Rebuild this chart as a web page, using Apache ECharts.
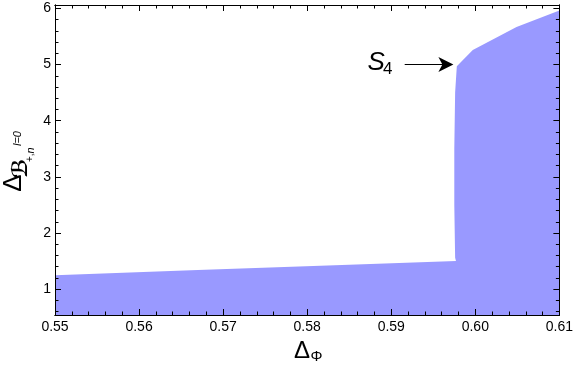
<!DOCTYPE html>
<html>
<head>
<meta charset="utf-8">
<script src="https://cdn.jsdelivr.net/npm/echarts@6/dist/echarts.min.js"></script>
<style>
  html, body { margin: 0; padding: 0; background: #fff; }
  #main { width: 576px; height: 373px; }
</style>
</head>
<body>
<div id="main"></div>
<script>
// axis ranges and tick marks
const xMin = 0.55, xMax = 0.61;
const yMin = 0.54, yMax = 6.06;
const xMajor = [0.55, 0.56, 0.57, 0.58, 0.59, 0.60, 0.61];
const yMajor = [1, 2, 3, 4, 5, 6];
// allowed region boundary, clockwise from bottom-left
const regionX = [0.55, 0.55, 0.567, 0.585, 0.5977, 0.5976, 0.5975, 0.5975, 0.5976, 0.5978, 0.5997, 0.6049, 0.61, 0.61];
const regionY = [0.54, 1.25, 1.34, 1.435, 1.50, 1.56, 2.5, 3.5, 4.5, 4.97, 5.26, 5.67, 5.96, 0.54];
// S4 arrow
const arrowFrom = [0.5916, 5.0];
const arrowTo = [0.5965, 5.0];

const xMinor = [], yMinor = [];
for (let i = 0; i < xMajor.length - 1; i++) {
  for (let k = 1; k < 5; k++) xMinor.push(+(xMajor[i] + k * 0.002).toFixed(3));
}
for (let v = 0.6; v < yMax; v += 0.2) {
  const r = +v.toFixed(1);
  if (Math.abs(r - Math.round(r)) > 0.01) yMinor.push(r);
}

const FONT = 'Liberation Sans, Arial, sans-serif';

function axis(dir, pos, ticks, len, withLabels) {
  const a = {
    type: 'value',
    position: pos,
    min: dir === 'x' ? xMin : yMin,
    max: dir === 'x' ? xMax : yMax,
    z: 5,
    splitLine: { show: false },
    axisLine: { show: true, onZero: false, lineStyle: { color: '#000', width: 1 } },
    axisTick: { show: true, inside: true, length: len, customValues: ticks, lineStyle: { color: '#000', width: 1 } },
    axisLabel: { show: false }
  };
  if (withLabels) {
    a.axisLabel = {
      show: true,
      customValues: ticks,
      color: '#000',
      fontFamily: FONT,
      fontSize: 14,
      margin: dir === 'x' ? 5 : 4,
      formatter: v => dir === 'x' ? v.toFixed(2) : String(Math.round(v))
    };
  }
  return a;
}

const chart = echarts.init(document.getElementById('main'));
chart.setOption({
  animation: false,
  backgroundColor: '#fff',
  grid: { left: 55, right: 16, top: 5, bottom: 58, containLabel: false },
  xAxis: [
    axis('x', 'bottom', xMajor, 6, true),
    axis('x', 'bottom', xMinor, 3.5, false),
    axis('x', 'top', xMajor, 6, false),
    axis('x', 'top', xMinor, 3.5, false)
  ],
  yAxis: [
    axis('y', 'left', yMajor, 6, true),
    axis('y', 'left', yMinor, 3.5, false),
    axis('y', 'right', yMajor, 6, false),
    axis('y', 'right', yMinor, 3.5, false)
  ],
  series: [
    {
      type: 'custom',
      z: 1,
      silent: true,
      data: [[0.58, 3]],
      renderItem: (params, api) => {
        const pts = regionX.map((x, i) => api.coord([x, regionY[i]]));
        return { type: 'polygon', shape: { points: pts }, style: { fill: '#9999ff' } };
      }
    },
    {
      type: 'line',
      data: [],
      silent: true,
      markLine: {
        silent: true,
        symbol: ['none', 'path://M5,0 L10,15 L5,11 L0,15 Z'],
        symbolSize: 15,
        label: { show: false },
        lineStyle: { color: '#000', width: 1, type: 'solid' },
        data: [[{ coord: arrowFrom }, { coord: arrowTo }]]
      }
    }
  ]
});

const p = chart.convertToPixel({ xAxisIndex: 0, yAxisIndex: 0 }, arrowFrom);
const rot = Math.PI / 2;
chart.setOption({
  graphic: [
    // S4 label
    { type: 'text', x: p[0] - 28.5, y: p[1] - 2, style: { text: 'S', font: 'italic 26px ' + FONT, fill: '#000', align: 'center', verticalAlign: 'middle' } },
    { type: 'text', x: p[0] - 17, y: p[1] + 5, style: { text: '4', font: '17px ' + FONT, fill: '#000', align: 'center', verticalAlign: 'middle' } },
    // x axis title
    { type: 'text', x: 302, y: 351, style: { text: 'Δ', font: '24px ' + FONT, fill: '#000', align: 'center', verticalAlign: 'middle' } },
    { type: 'text', x: 316.5, y: 357, style: { text: 'Φ', font: '15px ' + FONT, fill: '#000', align: 'center', verticalAlign: 'middle' } },
    // y axis title
    { type: 'text', x: 14, y: 183, rotation: rot, style: { text: 'Δ', font: '26px ' + FONT, fill: '#000', align: 'center', verticalAlign: 'middle' } },
    { type: 'text', x: 22, y: 168.5, rotation: rot, style: { text: 'ℬ', font: 'bold 21px DejaVu Sans, ' + FONT, fill: '#000', align: 'center', verticalAlign: 'middle' } },
    { type: 'text', x: 30.5, y: 153.5, rotation: rot, style: { text: '+,', font: '10px ' + FONT, fill: '#000', align: 'right', verticalAlign: 'middle' } },
    { type: 'text', x: 30.5, y: 153.5, rotation: rot, style: { text: 'n', font: 'italic 11px ' + FONT, fill: '#000', align: 'left', verticalAlign: 'middle' } },
    { type: 'text', x: 18, y: 138.5, rotation: rot, style: { text: 'l=0', font: 'italic 11px ' + FONT, fill: '#000', align: 'center', verticalAlign: 'middle' } }
  ]
});
</script>
</body>
</html>
